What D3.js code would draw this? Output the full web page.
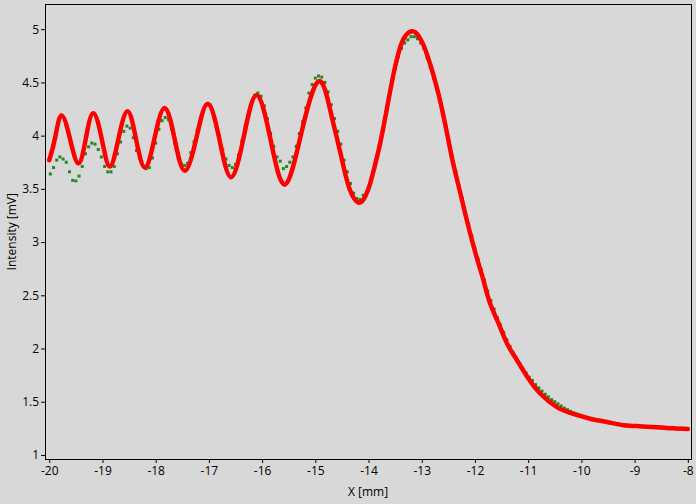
<!DOCTYPE html>
<html>
<head>
<meta charset="utf-8">
<script src="https://cdn.jsdelivr.net/npm/d3@7"></script>
<style>
  html, body { margin: 0; padding: 0; background: #d8d8d8; }
  svg { display: block; }
  text { font-family: "Open Sans", "Noto Sans", sans-serif; fill: #000; }
</style>
</head>
<body>
<svg id="chart" width="696" height="504"></svg>
<script>
// ---- data ----
const xTicks = [-20, -19, -18, -17, -16, -15, -14, -13, -12, -11, -10, -9, -8];
const yTicks = [1, 1.5, 2, 2.5, 3, 3.5, 4, 4.5, 5];
const xTitle = "X [mm]";
const yTitle = "Intensity [mV]";

// fitted curve (red) : [x, intensity]
const fitCurve = [
  [-20.00, 3.77], [-19.89, 3.98], [-19.77, 4.19], [-19.61, 3.97], [-19.45, 3.74],
  [-19.31, 3.98], [-19.17, 4.21], [-19.01, 3.96], [-18.86, 3.71], [-18.70, 3.97],
  [-18.53, 4.23], [-18.37, 3.97], [-18.20, 3.70], [-18.02, 3.98], [-17.83, 4.26],
  [-17.64, 3.96], [-17.45, 3.67], [-17.23, 3.99], [-17.02, 4.30], [-16.80, 3.96],
  [-16.58, 3.61], [-16.34, 4.00], [-16.10, 4.38], [-15.84, 3.96], [-15.57, 3.54],
  [-15.26, 4.03], [-14.94, 4.51], [-14.72, 4.24], [-14.60, 3.99], [-14.47, 3.71],
  [-14.35, 3.49], [-14.19, 3.37], [-14.06, 3.43], [-13.97, 3.55], [-13.88, 3.72],
  [-13.78, 3.93], [-13.66, 4.24], [-13.53, 4.58], [-13.43, 4.79], [-13.33, 4.92],
  [-13.18, 4.98], [-13.05, 4.93], [-12.95, 4.83], [-12.88, 4.73], [-12.81, 4.62],
  [-12.69, 4.40], [-12.59, 4.18], [-12.50, 3.96], [-12.41, 3.74], [-12.28, 3.47],
  [-12.15, 3.20], [-11.97, 2.86], [-11.84, 2.64], [-11.72, 2.43], [-11.56, 2.24],
  [-11.40, 2.05], [-11.21, 1.89], [-11.00, 1.72], [-10.78, 1.58], [-10.46, 1.45],
  [-10.15, 1.385], [-9.84, 1.34], [-9.52, 1.31], [-9.21, 1.28], [-8.90, 1.27],
  [-8.58, 1.26], [-8.27, 1.25], [-8.00, 1.245]
];

// measured points (green) : [x, intensity]
const measured = [
  [-19.98, 3.64], [-19.92, 3.70], [-19.86, 3.77], [-19.80, 3.80], [-19.74, 3.78],
  [-19.68, 3.75], [-19.62, 3.66], [-19.56, 3.58], [-19.50, 3.575], [-19.44, 3.62],
  [-19.38, 3.71], [-19.32, 3.83], [-19.26, 3.895], [-19.20, 3.93], [-19.14, 3.92],
  [-19.08, 3.87], [-19.02, 3.80], [-18.96, 3.71], [-18.90, 3.66], [-18.84, 3.66],
  [-18.78, 3.71], [-18.72, 3.83], [-18.66, 3.94], [-18.60, 4.04], [-18.54, 4.09],
  [-18.48, 4.07], [-18.42, 3.98], [-18.36, 3.86], [-18.30, 3.79], [-18.24, 3.72],
  [-18.18, 3.69], [-18.12, 3.70], [-18.06, 3.79], [-18.00, 3.93], [-17.94, 4.06],
  [-17.88, 4.14], [-17.82, 4.17], [-17.76, 4.15], [-17.70, 4.06], [-17.64, 3.93],
  [-17.58, 3.82], [-17.52, 3.74], [-17.46, 3.72], [-17.40, 3.74], [-17.34, 3.84],
  [-17.28, 3.94], [-17.22, 4.05], [-17.16, 4.16], [-17.10, 4.25], [-17.04, 4.29],
  [-16.98, 4.29], [-16.92, 4.22], [-16.86, 4.11], [-16.80, 3.99], [-16.74, 3.87],
  [-16.68, 3.78], [-16.62, 3.72], [-16.56, 3.70], [-16.50, 3.73], [-16.44, 3.82],
  [-16.38, 3.95], [-16.32, 4.08], [-16.26, 4.20], [-16.20, 4.31], [-16.14, 4.38],
  [-16.08, 4.40], [-16.02, 4.37], [-15.96, 4.28], [-15.90, 4.16], [-15.84, 4.02],
  [-15.78, 3.90], [-15.72, 3.80], [-15.66, 3.76], [-15.60, 3.69], [-15.54, 3.71],
  [-15.48, 3.75], [-15.42, 3.80], [-15.36, 3.90], [-15.30, 4.02], [-15.24, 4.13],
  [-15.18, 4.26], [-15.12, 4.40], [-15.06, 4.48], [-15.00, 4.54], [-14.94, 4.56],
  [-14.88, 4.55], [-14.82, 4.50], [-14.76, 4.41], [-14.70, 4.29], [-14.64, 4.16],
  [-14.58, 4.04], [-14.52, 3.92], [-14.46, 3.77], [-14.40, 3.66], [-14.34, 3.55],
  [-14.28, 3.46], [-14.22, 3.41], [-14.16, 3.40], [-14.10, 3.44], [-14.04, 3.47],
  [-13.98, 3.54], [-13.92, 3.65], [-13.86, 3.77], [-13.80, 3.90], [-13.74, 4.05],
  [-13.68, 4.20], [-13.62, 4.36], [-13.56, 4.51], [-13.50, 4.63], [-13.44, 4.74],
  [-13.38, 4.82], [-13.32, 4.87], [-13.26, 4.90], [-13.20, 4.93], [-13.14, 4.93],
  [-13.08, 4.91], [-13.02, 4.87], [-12.96, 4.82], [-12.90, 4.73], [-12.84, 4.64],
  [-12.78, 4.54], [-12.72, 4.44], [-12.66, 4.33], [-12.60, 4.21], [-12.54, 4.08],
  [-12.48, 3.94], [-12.42, 3.80], [-12.36, 3.66], [-12.30, 3.53], [-12.24, 3.41],
  [-12.18, 3.28], [-12.12, 3.17], [-12.06, 3.06], [-12.00, 2.94], [-11.94, 2.84],
  [-11.88, 2.74], [-11.82, 2.64], [-11.76, 2.54], [-11.70, 2.45], [-11.64, 2.37],
  [-11.58, 2.29], [-11.52, 2.22], [-11.46, 2.15], [-11.40, 2.08], [-11.34, 2.02],
  [-11.28, 1.96], [-11.22, 1.91], [-11.16, 1.86], [-11.10, 1.81], [-11.04, 1.77],
  [-10.98, 1.73], [-10.92, 1.70], [-10.86, 1.66], [-10.80, 1.63], [-10.74, 1.60],
  [-10.68, 1.57], [-10.62, 1.545], [-10.56, 1.52], [-10.50, 1.50], [-10.44, 1.48],
  [-10.38, 1.46], [-10.32, 1.44], [-10.26, 1.425], [-10.20, 1.41], [-10.14, 1.395],
  [-10.08, 1.385], [-10.02, 1.375], [-9.96, 1.365], [-9.90, 1.355], [-9.84, 1.345],
  [-9.78, 1.34], [-9.72, 1.33], [-9.66, 1.325], [-9.60, 1.32], [-9.54, 1.31],
  [-9.48, 1.305], [-9.42, 1.30], [-9.36, 1.295], [-9.30, 1.29], [-9.24, 1.285],
  [-9.18, 1.28], [-9.12, 1.28], [-9.06, 1.275], [-9.00, 1.27], [-8.94, 1.27],
  [-8.88, 1.265], [-8.82, 1.265], [-8.76, 1.26], [-8.70, 1.26], [-8.64, 1.26],
  [-8.58, 1.255], [-8.52, 1.255], [-8.46, 1.25], [-8.40, 1.25], [-8.34, 1.25],
  [-8.28, 1.25], [-8.22, 1.245], [-8.16, 1.245], [-8.10, 1.245], [-8.04, 1.245]
];

// ---- layout ----
const W = 696, H = 504;
const plot = { left: 45, right: 691, top: 4.5, bottom: 459 };

const x = d3.scaleLinear().domain([-20.08, -7.94]).range([plot.left, plot.right]);
const y = d3.scaleLinear().domain([0.962, 5.232]).range([plot.bottom, plot.top]);

const svg = d3.select("#chart");
svg.append("rect").attr("width", W).attr("height", H).attr("fill", "#d8d8d8");

const clipId = "plotclip";
svg.append("clipPath").attr("id", clipId).append("rect")
  .attr("x", plot.left).attr("y", plot.top)
  .attr("width", plot.right - plot.left).attr("height", plot.bottom - plot.top);

const g = svg.append("g").attr("clip-path", `url(#${clipId})`);

// green measured points
g.selectAll("rect.pt").data(measured).join("rect")
  .attr("class", "pt")
  .attr("x", d => x(d[0]) - 1.5)
  .attr("y", d => y(d[1]) - 1.5)
  .attr("width", 3).attr("height", 3)
  .attr("fill", "#1f8a1f");

// red fitted line
const line = d3.line().x(d => x(d[0])).y(d => y(d[1])).curve(d3.curveNatural);
g.append("path").datum(fitCurve)
  .attr("d", line)
  .attr("fill", "none")
  .attr("stroke", "#ff0000")
  .attr("stroke-width", 4.5)
  .attr("stroke-linejoin", "round")
  .attr("stroke-linecap", "round");

// frame
svg.append("rect")
  .attr("x", plot.left + 0.5).attr("y", plot.top)
  .attr("width", plot.right - plot.left).attr("height", plot.bottom - plot.top + 0.5)
  .attr("fill", "none").attr("stroke", "#000").attr("stroke-width", 1);

// axes
const fmt = d => String(d);
const xAxis = d3.axisBottom(x).tickValues(xTicks).tickFormat(fmt).tickSize(4).tickPadding(3);
const yAxis = d3.axisLeft(y).tickValues(yTicks).tickFormat(fmt).tickSize(4).tickPadding(2);

const gx = svg.append("g").attr("transform", `translate(0,${plot.bottom})`).call(xAxis);
const gy = svg.append("g").attr("transform", `translate(${plot.left},0)`).call(yAxis);
[gx, gy].forEach(a => {
  a.select(".domain").remove();
  a.selectAll("line").attr("stroke", "#000");
  a.selectAll("text").attr("font-size", 12).attr("fill", "#000")
    .style("font-family", '"Open Sans", "Noto Sans", sans-serif');
});

svg.append("text")
  .attr("x", (plot.left + plot.right) / 2).attr("y", 496)
  .attr("text-anchor", "middle").attr("font-size", 12)
  .text(xTitle);

svg.append("text")
  .attr("transform", `translate(16,${(plot.top + plot.bottom) / 2}) rotate(-90)`)
  .attr("text-anchor", "middle").attr("font-size", 12)
  .text(yTitle);
</script>
</body>
</html>
